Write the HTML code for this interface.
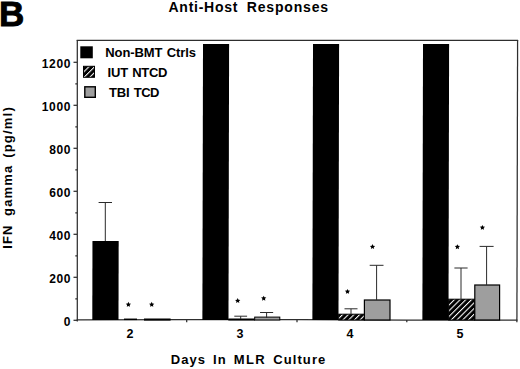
<!DOCTYPE html>
<html><head><meta charset="utf-8"><style>
html,body{margin:0;padding:0;background:#fff;width:520px;height:369px;overflow:hidden}
svg{display:block}
text{font-family:"Liberation Sans",sans-serif;font-weight:bold;fill:#000;white-space:pre}
</style></head><body>
<svg width="520" height="369" viewBox="0 0 520 369">
<defs>
<pattern id="h" patternUnits="userSpaceOnUse" width="4.03" height="4.03" patternTransform="translate(1,0) rotate(45)"><rect width="4.03" height="4.03" fill="#000"/><rect x="0" y="0" width="1.05" height="4.03" fill="#fff"/></pattern>
<path id="ast" d="M0.00,-2.60 L0.79,-0.94 L2.62,-0.70 L1.28,0.57 L1.62,2.37 L0.00,1.50 L-1.62,2.37 L-1.28,0.57 L-2.62,-0.70 L-0.79,-0.94 Z" fill="#000"/>
</defs>
<g stroke="#2e2e2e" stroke-width="1.25" fill="none">
<line x1="76.7" y1="40.4" x2="518.1" y2="40.4"/>
<line x1="77.3" y1="40" x2="77.3" y2="321.6"/>
<path d="M517.6,40 L516.9,322.3"/>
<path d="M76.7,319.8 L186,319.5 L300,319.6 L407,320.0 L517.5,320.2"/>
<line x1="186.7" y1="320" x2="186.7" y2="322.2"/>
<line x1="297.0" y1="320" x2="297.0" y2="322.2"/>
<line x1="406.8" y1="320" x2="406.8" y2="322.2"/>
<line x1="73.5" y1="62.3" x2="77" y2="62.3"/>
<line x1="73.5" y1="105.3" x2="77" y2="105.3"/>
<line x1="73.5" y1="148.3" x2="77" y2="148.3"/>
<line x1="73.5" y1="191.3" x2="77" y2="191.3"/>
<line x1="73.5" y1="234.3" x2="77" y2="234.3"/>
<line x1="73.5" y1="277.3" x2="77" y2="277.3"/>
<line x1="73.5" y1="320.3" x2="77" y2="320.3"/>
<line x1="75.3" y1="83.8" x2="77" y2="83.8"/>
<line x1="75.3" y1="126.8" x2="77" y2="126.8"/>
<line x1="75.3" y1="169.8" x2="77" y2="169.8"/>
<line x1="75.3" y1="212.8" x2="77" y2="212.8"/>
<line x1="75.3" y1="255.8" x2="77" y2="255.8"/>
<line x1="75.3" y1="298.8" x2="77" y2="298.8"/>
</g>
<g fill="#000" transform="translate(0.4,0) skewX(-0.126)">
<rect x="92.6" y="241" width="26.2" height="79"/>
<rect x="202.7" y="44" width="26.1" height="276.0"/>
<rect x="312.7" y="44" width="26.1" height="276.0"/>
<rect x="422.7" y="44" width="26.1" height="276.0"/>
</g>
<g stroke="#000" stroke-width="1">
<rect x="228.8" y="319" width="25.7" height="1" fill="#000"/>
<rect x="338.7" y="314.2" width="25.8" height="5.8" fill="url(#h)"/>
<rect x="448.6" y="299.2" width="25.9" height="20.8" fill="url(#h)"/>
</g>
<g stroke="#000" stroke-width="1.2" fill="#9e9e9e">
<rect x="144.6" y="319.1" width="25.4" height="0.9"/>
<rect x="254.7" y="317.1" width="25.1" height="2.9" stroke-width="1"/>
<rect x="364.4" y="300.0" width="25.6" height="20"/>
<rect x="474.8" y="285.0" width="24.8" height="35"/>
</g>
<g stroke="#2a2a2a" stroke-width="1">
<line x1="105.3" y1="202.5" x2="105.3" y2="241"/><line x1="98.6" y1="202.5" x2="112.0" y2="202.5"/>
<line x1="240.7" y1="316.2" x2="240.7" y2="319"/><line x1="234.29999999999998" y1="316.2" x2="247.1" y2="316.2"/>
<line x1="266.6" y1="312.5" x2="266.6" y2="317.8"/><line x1="260.05" y1="312.5" x2="273.15000000000003" y2="312.5"/>
<line x1="351" y1="308.8" x2="351" y2="314.2"/><line x1="344.5" y1="308.8" x2="357.5" y2="308.8"/>
<line x1="376.6" y1="265.3" x2="376.6" y2="300"/><line x1="369.70000000000005" y1="265.3" x2="383.5" y2="265.3"/>
<line x1="461" y1="268" x2="461" y2="299.2"/><line x1="454.4" y1="268" x2="467.6" y2="268"/>
<line x1="486.6" y1="246.4" x2="486.6" y2="285"/><line x1="479.6" y1="246.4" x2="493.6" y2="246.4"/>
<line x1="124" y1="319.3" x2="137" y2="319.3" stroke-width="1.5" stroke="#000"/>
</g>
<use href="#ast" x="128.4" y="304.4"/>
<use href="#ast" x="151.7" y="304.4"/>
<use href="#ast" x="237.7" y="300.6"/>
<use href="#ast" x="263.7" y="298.3"/>
<use href="#ast" x="347.5" y="291.5"/>
<use href="#ast" x="372.5" y="246.6"/>
<use href="#ast" x="457.4" y="246.8"/>
<use href="#ast" x="482.4" y="227.5"/>
<rect x="80.3" y="46.3" width="12.5" height="12" fill="#000"/>
<rect x="83.5" y="66.3" width="11" height="11" fill="url(#h)" stroke="#000" stroke-width="1"/>
<rect x="84.8" y="86.8" width="10.5" height="10.5" fill="#9e9e9e" stroke="#000" stroke-width="1.4"/>
<text x="168.50" y="11.60" style="font-size:14px;letter-spacing:0.744px">Anti-Host</text>
<text x="246.80" y="11.60" style="font-size:14px;letter-spacing:0.819px">Responses</text>
<text x="170.75" y="364.30" style="font-size:13px;letter-spacing:1.083px">Days</text>
<text x="213.05" y="364.30" style="font-size:13px;letter-spacing:1.200px">In</text>
<text x="233.85" y="364.30" style="font-size:13px;letter-spacing:1.300px">MLR</text>
<text x="273.20" y="364.30" style="font-size:13px;letter-spacing:1.100px">Culture</text>
<text x="105.25" y="57.40" style="font-size:13px;letter-spacing:-0.092px">Non-BMT</text>
<text x="166.70" y="57.40" style="font-size:13px;letter-spacing:-0.075px">Ctrls</text>
<text x="107.55" y="77.10" style="font-size:13px;letter-spacing:-0.150px">IUT</text>
<text x="132.15" y="77.10" style="font-size:13px;letter-spacing:-0.283px">NTCD</text>
<text x="108.95" y="97.30" style="font-size:13px;letter-spacing:-0.125px">TBI</text>
<text x="133.75" y="97.30" style="font-size:13px;letter-spacing:-0.550px">TCD</text>
<text transform="translate(11.70,248.85) rotate(-90)" style="font-size:13px;letter-spacing:1.175px">IFN</text>
<text transform="translate(11.70,216.00) rotate(-90)" style="font-size:13px;letter-spacing:1.200px">gamma</text>
<text transform="translate(11.70,157.85) rotate(-90)" style="font-size:13px;letter-spacing:1.217px">(pg/ml)</text>
<text x="41.85" y="67.60" style="font-size:12px;letter-spacing:0.600px">1200</text>
<text x="41.85" y="110.60" style="font-size:12px;letter-spacing:0.600px">1000</text>
<text x="49.20" y="153.60" style="font-size:12px;letter-spacing:0.600px">800</text>
<text x="49.20" y="196.60" style="font-size:12px;letter-spacing:0.600px">600</text>
<text x="49.20" y="239.60" style="font-size:12px;letter-spacing:0.600px">400</text>
<text x="49.20" y="282.60" style="font-size:12px;letter-spacing:0.600px">200</text>
<text x="63.65" y="325.60" style="font-size:12px;letter-spacing:0.600px">0</text>
<text x="126.50" y="338.00" style="font-size:12.5px;letter-spacing:0.000px">2</text>
<text x="236.62" y="338.00" style="font-size:12.5px;letter-spacing:0.000px">3</text>
<text x="346.38" y="338.00" style="font-size:12.5px;letter-spacing:0.000px">4</text>
<text x="456.50" y="338.00" style="font-size:12.5px;letter-spacing:0.000px">5</text>
<text x="-0.98" y="25.95" style="font-size:35px" stroke="#000" stroke-width="0.9">B</text>
</svg>
</body></html>
